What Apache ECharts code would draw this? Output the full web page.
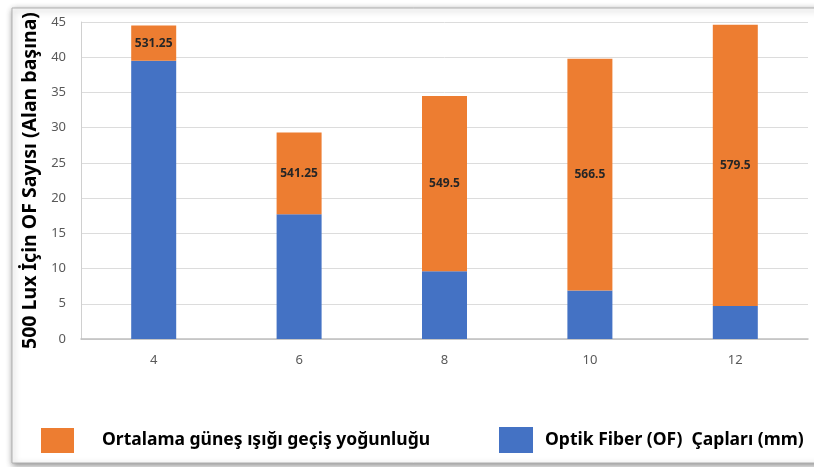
<!DOCTYPE html>
<html>
<head>
<meta charset="utf-8">
<script src="https://cdn.jsdelivr.net/npm/echarts@6/dist/echarts.min.js"></script>
<style>
html,body{margin:0;padding:0;background:#fff;}
#chart{width:814px;height:467px;}
</style>
</head>
<body>
<div id="chart"></div>
<script>
const categories = ['4', '6', '8', '10', '12'];
const fiberCounts = [39.5, 17.7, 9.6, 6.9, 4.7];
const sunSegments = [5.0, 11.6, 24.9, 32.9, 39.9];
const sunLabels = ['531.25', '541.25', '549.5', '566.5', '579.5'];
const yTicks = [0, 5, 10, 15, 20, 25, 30, 35, 40, 45];

const nameOrange = 'Ortalama güneş ışığı geçiş yoğunluğu';
const nameBlue = 'Optik Fiber (OF)  Çapları (mm)';
const FONT = '"Noto Sans", "DejaVu Sans", sans-serif';

const chart = echarts.init(document.getElementById('chart'), null, {renderer: 'canvas'});
chart.setOption({
  animation: false,
  backgroundColor: '#ffffff',
  textStyle: {fontFamily: FONT},
  graphic: [{
    type: 'rect', z: -10, silent: true,
    shape: {x: 12, y: 8, width: 830, height: 455},
    style: {fill: '#ffffff', stroke: '#b0b0b0', lineWidth: 1,
            shadowBlur: 6, shadowColor: 'rgba(0,0,0,0.45)', shadowOffsetX: 1, shadowOffsetY: 2}
  }],
  grid: {left: 81, right: 6, top: 22, bottom: 128, containLabel: false},
  xAxis: {
    type: 'category',
    data: categories,
    axisLine: {show: true, lineStyle: {color: '#bfbfbf', width: 1.5}},
    axisTick: {show: false},
    axisLabel: {color: '#595959', fontSize: 13, fontFamily: FONT, margin: 15}
  },
  yAxis: {
    type: 'value',
    min: yTicks[0], max: yTicks[yTicks.length - 1], interval: 5,
    name: '500 Lux İçin OF Sayısı (Alan başına)',
    nameLocation: 'middle',
    nameGap: 40,
    nameTextStyle: {color: '#000', fontSize: 19.5, fontWeight: 'bold', fontFamily: FONT},
    axisLine: {show: true, lineStyle: {color: '#d0d0d0'}},
    axisTick: {show: false},
    axisLabel: {color: '#595959', fontSize: 13, fontFamily: FONT, margin: 15},
    splitLine: {lineStyle: {color: '#dcdcdc', width: 1}}
  },
  legend: [
    {
      data: [{name: nameOrange, icon: 'rect'}],
      left: 41, top: 428, padding: 0,
      itemWidth: 33, itemHeight: 25,
      textStyle: {color: '#000', fontSize: 17.5, fontWeight: 'bold', fontFamily: FONT, padding: [0, 0, 0, 23]}
    },
    {
      data: [{name: nameBlue, icon: 'rect'}],
      left: 499, top: 427, padding: 0,
      itemWidth: 34, itemHeight: 26,
      textStyle: {color: '#000', fontSize: 17.5, fontWeight: 'bold', fontFamily: FONT, padding: [0, 0, 0, 7]}
    }
  ],
  series: [
    {
      name: nameBlue,
      type: 'bar',
      stack: 'total',
      barWidth: 45,
      data: fiberCounts,
      itemStyle: {color: '#4472C4'}
    },
    {
      name: nameOrange,
      type: 'bar',
      stack: 'total',
      barWidth: 45,
      data: sunSegments,
      itemStyle: {color: '#ED7D31'},
      label: {
        show: true,
        position: 'inside',
        color: '#262626',
        fontSize: 12,
        fontWeight: 'bold',
        fontFamily: FONT,
        formatter: function (p) { return sunLabels[p.dataIndex]; }
      }
    }
  ]
});
</script>
</body>
</html>
